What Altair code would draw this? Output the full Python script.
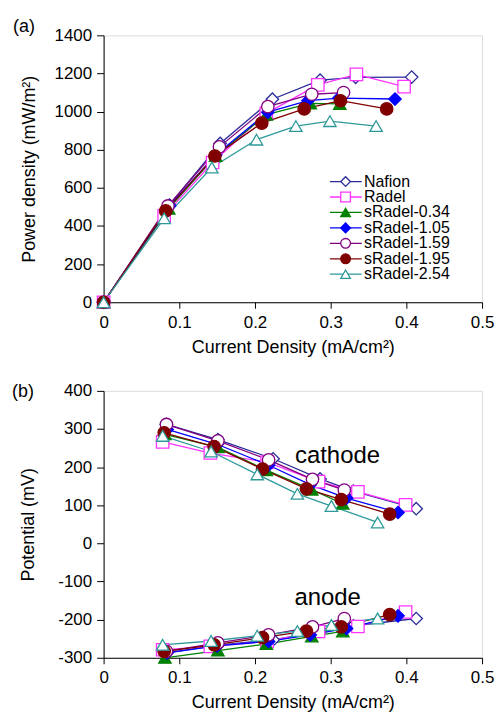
import altair as alt
import pandas as pd

series = ["Nafion", "Radel", "sRadel-0.34", "sRadel-1.05", "sRadel-1.59", "sRadel-1.95", "sRadel-2.54"]
colors = ["#2a2a99", "#ff33ff", "#008000", "#0000ff", "#800080", "#800000", "#2e9999"]
shapes = ["diamond", "square", "triangle-up", "diamond", "circle", "circle", "triangle-up"]
fills = ["white", "white", "#008000", "#0000ff", "white", "#800000", "white"]

# (a) power density vs current density
power_x = {
    "Nafion": [0, 0.087, 0.154, 0.223, 0.286, 0.333, 0.407],
    "Radel": [0, 0.080, 0.144, 0.215, 0.283, 0.334, 0.397],
    "sRadel-0.34": [0, 0.086, 0.148, 0.215, 0.273, 0.312],
    "sRadel-1.05": [0, 0.087, 0.148, 0.217, 0.270, 0.311, 0.385],
    "sRadel-1.59": [0, 0.085, 0.153, 0.217, 0.275, 0.317],
    "sRadel-1.95": [0, 0.082, 0.147, 0.209, 0.265, 0.313, 0.374],
    "sRadel-2.54": [0, 0.080, 0.143, 0.202, 0.254, 0.299, 0.360],
}
power_y = {
    "Nafion": [0, 510, 833, 1065, 1165, 1180, 1181],
    "Radel": [0, 453, 733, 991, 1140, 1195, 1131],
    "sRadel-0.34": [0, 491, 767, 984, 1043, 1040],
    "sRadel-1.05": [0, 505, 772, 997, 1057, 1071, 1066],
    "sRadel-1.59": [0, 505, 815, 1026, 1091, 1100],
    "sRadel-1.95": [0, 479, 767, 940, 1014, 1057, 1014],
    "sRadel-2.54": [0, 440, 707, 853, 924, 950, 924],
}

# (b) electrode potentials vs current density
pot_x = {
    "Nafion": [0.083, 0.151, 0.224, 0.286, 0.330, 0.413],
    "Radel": [0.078, 0.141, 0.216, 0.284, 0.336, 0.399],
    "sRadel-0.34": [0.081, 0.151, 0.215, 0.275, 0.316],
    "sRadel-1.05": [0.084, 0.150, 0.218, 0.273, 0.321, 0.389],
    "sRadel-1.59": [0.083, 0.151, 0.218, 0.276, 0.318],
    "sRadel-1.95": [0.080, 0.146, 0.210, 0.268, 0.314, 0.378],
    "sRadel-2.54": [0.078, 0.142, 0.203, 0.256, 0.301, 0.362],
}
cathode_y = {
    "Nafion": [312, 272, 222, 169, 137, 91],
    "Radel": [266, 237, 213, 162, 135, 101],
    "sRadel-0.34": [286, 252, 192, 141, 104],
    "sRadel-1.05": [299, 260, 205, 154, 119, 81],
    "sRadel-1.59": [312, 269, 219, 168, 140],
    "sRadel-1.95": [290, 254, 195, 143, 115, 77],
    "sRadel-2.54": [282, 241, 181, 130, 98, 55],
}
anode_y = {
    "Nafion": [-287, -267, -253, -231, -216, -197],
    "Radel": [-279, -270, -257, -231, -218, -180],
    "sRadel-0.34": [-300, -281, -264, -244, -231],
    "sRadel-1.05": [-287, -269, -257, -240, -223, -190],
    "sRadel-1.59": [-283, -261, -240, -219, -197],
    "sRadel-1.95": [-283, -266, -247, -230, -219, -187],
    "sRadel-2.54": [-266, -256, -242, -230, -214, -197],
}

x_ticks = [0, 0.1, 0.2, 0.3, 0.4, 0.5]
power_ticks = [0, 200, 400, 600, 800, 1000, 1200, 1400]
pot_ticks = [-300, -200, -100, 0, 100, 200, 300, 400]

FONT = "Liberation Sans"
LAB = 17
TIT = 18

rows_a = []
for s in series:
    for i, (x, y) in enumerate(zip(power_x[s], power_y[s])):
        rows_a.append({"series": s, "cd": x, "val": y, "order": i, "branch": "p"})
df_a = pd.DataFrame(rows_a)

rows_b = []
for s in series:
    for i, (x, c, a) in enumerate(zip(pot_x[s], cathode_y[s], anode_y[s])):
        rows_b.append({"series": s, "cd": x, "val": c, "order": i, "branch": "cathode"})
        rows_b.append({"series": s, "cd": x, "val": a, "order": i, "branch": "anode"})
df_b = pd.DataFrame(rows_b)

legend_df = pd.DataFrame({"series": series, "idx": [float(i) for i in range(len(series))]})

stroke_scale = alt.Scale(domain=series, range=colors)
fill_scale = alt.Scale(domain=series, range=fills)
shape_scale = alt.Scale(domain=series, range=shapes)

W, H = 380, 268


def xenc(field="cd"):
    return alt.X(f"{field}:Q", scale=alt.Scale(domain=[0, 0.5], nice=False),
                 axis=alt.Axis(values=x_ticks, format="~g", title="Current Density (mA/cm²)",
                               grid=False, tickSize=6, labelPadding=6, titlePadding=8,
                               labelFontSize=LAB, titleFontSize=TIT, labelFont=FONT, titleFont=FONT,
                               titleFontWeight="normal", labelColor="black", titleColor="black",
                               domainColor="black", tickColor="black", labelFlush=False))


def yenc(domain, ticks, title, tp):
    return alt.Y("val:Q", scale=alt.Scale(domain=domain, nice=False, zero=False),
                 axis=alt.Axis(values=ticks, title=title, grid=False, tickSize=7,
                               labelExpr="datum.value < 0 ? '-' + abs(datum.value) : '' + datum.value",
                               labelPadding=5, titlePadding=tp, labelFontSize=LAB, titleFontSize=TIT,
                               labelFont=FONT, titleFont=FONT, titleFontWeight="normal",
                               labelColor="black", titleColor="black", domainColor="black",
                               tickColor="black"))


PT = "Power density (mW/m²)"
VT = "Potential (mV)"
ya = lambda: yenc([0, 1400], power_ticks, PT, 16)
yb = lambda: yenc([-300, 400], pot_ticks, VT, 20)


def panel(df, yfun, size):
    base = alt.Chart(df)
    lines = base.mark_line(strokeWidth=1.3, clip=False).encode(
        x=xenc(), y=yfun(),
        stroke=alt.Stroke("series:N", scale=stroke_scale, legend=None),
        detail="branch:N", order="order:Q")
    pts = base.mark_point(size=size, filled=False, strokeWidth=1.3, opacity=1, clip=False).encode(
        x=xenc(), y=yfun(),
        stroke=alt.Stroke("series:N", scale=stroke_scale, legend=None),
        fill=alt.Fill("series:N", scale=fill_scale, legend=None),
        shape=alt.Shape("series:N", scale=shape_scale, legend=None))
    return lines, pts


lines_a, pts_a = panel(df_a, ya, 155)
lines_b, pts_b = panel(df_b, yb, 155)

# legend drawn inside panel (a), rows placed in data units (top row ~633, step ~81)
leg_base = alt.Chart(legend_df).transform_calculate(
    val="633 - 81 * datum.idx", cd="0.299", cd2="0.341")
leg_rule = leg_base.mark_rule(strokeWidth=1.3).encode(
    x=xenc(), x2="cd2:Q", y=ya(),
    stroke=alt.Stroke("series:N", scale=stroke_scale, legend=None))
leg_pts = leg_base.transform_calculate(cd="0.3197").mark_point(
    size=95, filled=False, strokeWidth=1.3, opacity=1).encode(
    x=xenc(), y=ya(),
    stroke=alt.Stroke("series:N", scale=stroke_scale, legend=None),
    fill=alt.Fill("series:N", scale=fill_scale, legend=None),
    shape=alt.Shape("series:N", scale=shape_scale, legend=None))
leg_txt = leg_base.transform_calculate(cd="0.344").mark_text(
    align="left", baseline="middle", fontSize=16, font=FONT, color="black").encode(
    x=xenc(), y=ya(), text="series:N")

lab_a = alt.Chart(pd.DataFrame({"t": ["(a)"]})).mark_text(
    align="left", baseline="alphabetic", fontSize=18, font=FONT, color="black").encode(
    x=alt.value(-91), y=alt.value(-3), text="t:N")
lab_b = alt.Chart(pd.DataFrame({"t": ["(b)"]})).mark_text(
    align="left", baseline="alphabetic", fontSize=18, font=FONT, color="black").encode(
    x=alt.value(-92), y=alt.value(6), text="t:N")

ann_df = pd.DataFrame({"cd": [0.309, 0.296], "val": [230, -143], "t": ["cathode", "anode"]})
ann = alt.Chart(ann_df).mark_text(
    align="center", baseline="middle", fontSize=24, font=FONT, color="black").encode(
    x=xenc(), y=yb(), text="t:N")

top = alt.layer(lines_a, pts_a, leg_rule, leg_pts, leg_txt, lab_a).properties(width=W, height=H)
bottom = alt.layer(lines_b, pts_b, ann, lab_b).properties(width=W, height=H)

chart = alt.vconcat(top, bottom, spacing=24).properties(
    padding={"left": 3, "top": 8, "right": 0, "bottom": 0}
).configure_view(stroke="#999999", strokeWidth=1).configure(background="white")

chart.save("out.html", embed_options={"renderer": "svg", "actions": False})
